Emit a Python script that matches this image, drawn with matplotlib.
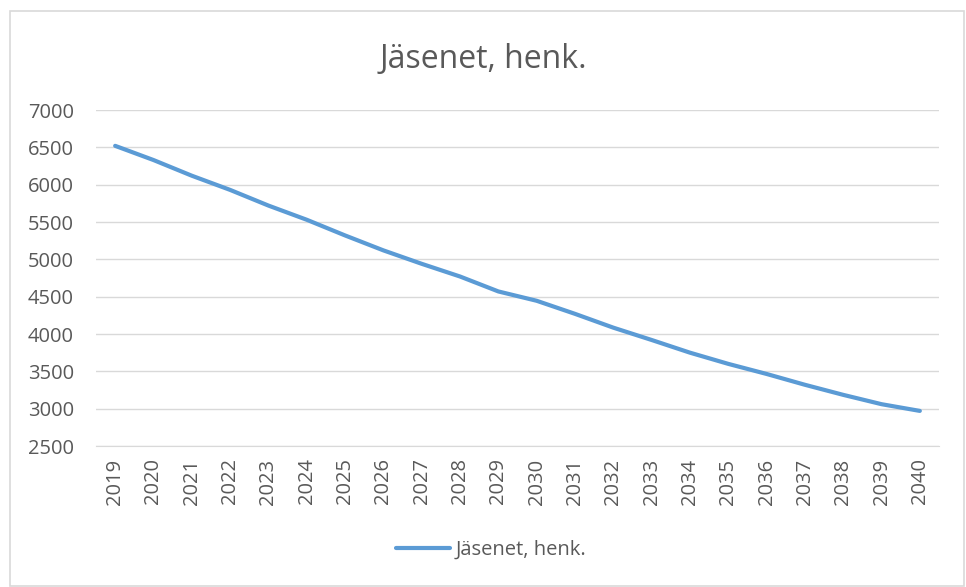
import matplotlib
matplotlib.use("Agg")
import matplotlib.pyplot as plt
from matplotlib.patches import Rectangle

years = list(range(2019, 2041))
members = [6520, 6330, 6120, 5930, 5720, 5530, 5320, 5120, 4940, 4770, 4570,
           4445, 4270, 4085, 3920, 3750, 3600, 3465, 3320, 3185, 3060, 2970]
yticks = [2500, 3000, 3500, 4000, 4500, 5000, 5500, 6000, 6500, 7000]

title = "Jäsenet, henk."
series_label = "Jäsenet, henk."

plt.rcParams["font.family"] = ["Open Sans", "DejaVu Sans"]
text_col = "#595959"

fig = plt.figure(figsize=(9.66, 5.87), dpi=100)
fig.patches.append(Rectangle((10 / 966, 1 / 587), 954 / 966, 575 / 587,
                             transform=fig.transFigure, fill=False,
                             edgecolor="#d9d9d9", linewidth=1.2))

ax = fig.add_axes([96 / 966, 1 - 446 / 587, 843 / 966, 336 / 587])
x = list(range(len(years)))
line, = ax.plot(x, members, color="#5b9bd5", linewidth=3.0,
                solid_capstyle="round", label=series_label)

ax.set_xlim(-0.5, len(years) - 0.5)
ax.set_ylim(2500, 7000)
ax.set_yticks(yticks)
ax.set_yticklabels([str(v) for v in yticks])
ax.set_xticks(x)
ax.set_xticklabels([str(y) for y in years], rotation=90)
ax.grid(axis="y", color="#d9d9d9", linewidth=1)
ax.set_axisbelow(True)
for s in ax.spines.values():
    s.set_visible(False)
ax.spines["bottom"].set_visible(True)
ax.spines["bottom"].set_color("#d9d9d9")
ax.tick_params(length=0, labelsize=14.5, colors=text_col)
ax.tick_params(axis="x", pad=9)
ax.tick_params(axis="y", pad=16)

fig.text(0.5, 1 - 60 / 587, title, ha="center", va="center",
         fontsize=23, color=text_col)

fig.legend(handles=[line], loc="center", bbox_to_anchor=(491 / 966, 1 - 550 / 587),
           frameon=False, fontsize=14.5, labelcolor=text_col,
           handlelength=2.7, handletextpad=0.25)

fig.savefig("out.png", dpi=100)
